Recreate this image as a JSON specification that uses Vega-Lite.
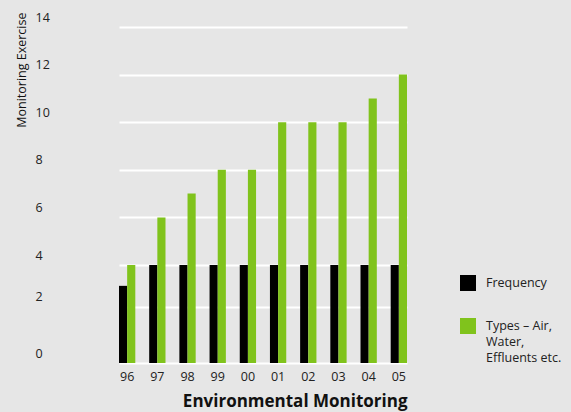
{
  "$schema": "https://vega.github.io/schema/vega-lite/v6.json",
  "width": 372,
  "height": 336,
  "autosize": {"type": "none"},
  "padding": {"left": 35, "top": 27, "right": 164, "bottom": 49},
  "background": "#e6e6e6",
  "config": {
    "view": {"stroke": null},
    "font": "Open Sans",
    "axis": {"labelColor": "#222222", "titleColor": "#111111"}
  },
  "data": {
    "values": [
      {"year": "96", "series": "Frequency", "value": 3},
      {"year": "96", "series": "Types – Air, Water, Effluents etc.", "value": 4},
      {"year": "97", "series": "Frequency", "value": 4},
      {"year": "97", "series": "Types – Air, Water, Effluents etc.", "value": 6},
      {"year": "98", "series": "Frequency", "value": 4},
      {"year": "98", "series": "Types – Air, Water, Effluents etc.", "value": 7},
      {"year": "99", "series": "Frequency", "value": 4},
      {"year": "99", "series": "Types – Air, Water, Effluents etc.", "value": 8},
      {"year": "00", "series": "Frequency", "value": 4},
      {"year": "00", "series": "Types – Air, Water, Effluents etc.", "value": 8},
      {"year": "01", "series": "Frequency", "value": 4},
      {"year": "01", "series": "Types – Air, Water, Effluents etc.", "value": 10},
      {"year": "02", "series": "Frequency", "value": 4},
      {"year": "02", "series": "Types – Air, Water, Effluents etc.", "value": 10},
      {"year": "03", "series": "Frequency", "value": 4},
      {"year": "03", "series": "Types – Air, Water, Effluents etc.", "value": 10},
      {"year": "04", "series": "Frequency", "value": 4},
      {"year": "04", "series": "Types – Air, Water, Effluents etc.", "value": 11},
      {"year": "05", "series": "Frequency", "value": 4},
      {"year": "05", "series": "Types – Air, Water, Effluents etc.", "value": 12}
    ]
  },
  "mark": {"type": "bar"},
  "encoding": {
    "x": {
      "field": "year",
      "type": "ordinal",
      "scale": {
        "domain": ["96", "97", "98", "99", "00", "01", "02", "03", "04", "05"],
        "range": [84, 372],
        "paddingInner": 0.46,
        "paddingOuter": 0
      },
      "axis": {
        "title": "Environmental Monitoring",
        "titleAnchor": "end",
        "titleFontSize": 17,
        "titleFontWeight": "bold",
        "titlePadding": 11,
        "labelAngle": 0,
        "labelFontSize": 12.5,
        "labelPadding": 7,
        "domain": false,
        "ticks": false,
        "grid": false
      }
    },
    "xOffset": {
      "field": "series",
      "type": "nominal",
      "sort": ["Frequency", "Types – Air, Water, Effluents etc."],
      "scale": {"paddingInner": 0, "paddingOuter": 0}
    },
    "y": {
      "field": "value",
      "type": "quantitative",
      "scale": {"domain": [0, 2, 4, 14], "range": [336, 279.7, 238, 0], "nice": false, "zero": false},
      "axis": {
        "title": "Monitoring Exercise",
        "titleFontSize": 12.5,
        "titleFontWeight": "normal",
        "titleAngle": -90,
        "titleAlign": "right",
        "titleBaseline": "middle",
        "titleX": -14,
        "titleY": -15,
        "values": [0, 2, 4, 6, 8, 10, 12, 14],
        "labelAlign": "left",
        "labelBaseline": "alphabetic",
        "labelOffset": -6,
        "labelPadding": 0,
        "labelFontSize": 12.5,
        "tickSize": 0,
        "ticks": false,
        "domain": false,
        "grid": true,
        "gridColor": "#ffffff",
        "gridWidth": 2,
        "gridOpacity": 1
      }
    },
    "color": {
      "field": "series",
      "type": "nominal",
      "scale": {
        "domain": ["Frequency", "Types – Air, Water, Effluents etc."],
        "range": ["#000000", "#80c31c"]
      },
      "legend": {
        "title": null,
        "orient": "none",
        "legendX": 425,
        "legendY": 248,
        "padding": 0,
        "symbolType": "square",
        "symbolSize": 256,
        "symbolStrokeWidth": 0,
        "symbolOpacity": 1,
        "labelFontSize": 12.5,
        "labelColor": "#222222",
        "labelOffset": 10,
        "labelBaseline": "top",
        "labelLimit": 200,
        "rowPadding": 27,
        "labelExpr": "datum.label == 'Frequency' ? 'Frequency' : ['Types – Air,', 'Water,', 'Effluents etc.']",
        "encode": {
          "labels": {"update": {"lineHeight": {"value": 16}, "dy": {"value": -6}}}
        }
      }
    }
  }
}
